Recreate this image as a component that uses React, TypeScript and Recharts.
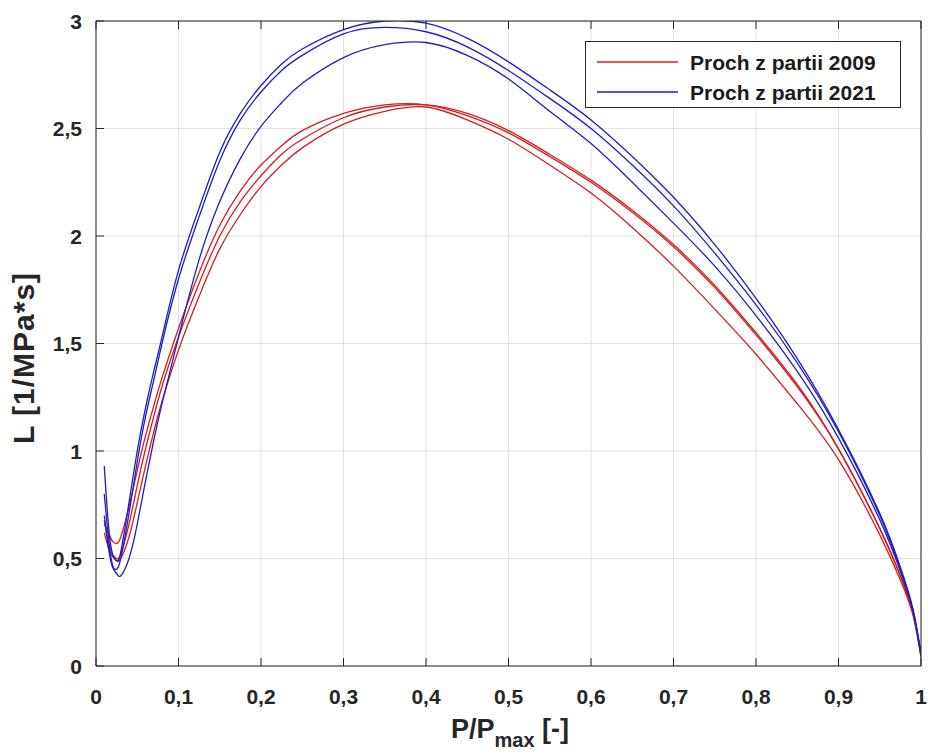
import React from 'react';
import { LineChart, Line, XAxis, YAxis, CartesianGrid, Legend } from 'recharts';

// P/Pmax sample positions
const P = [0.01, 0.015, 0.02, 0.025, 0.03, 0.04, 0.05, 0.06, 0.07, 0.08, 0.1, 0.125, 0.15, 0.175, 0.2, 0.225, 0.25, 0.3, 0.35, 0.4, 0.45, 0.5, 0.55, 0.6, 0.65, 0.7, 0.75, 0.8, 0.85, 0.9, 0.95, 0.975, 0.99, 1.0];

// Proch z partii 2009 (red)
const R1 = [0.66, 0.62, 0.58, 0.57, 0.6, 0.74, 0.91, 1.07, 1.21, 1.34, 1.57, 1.83, 2.05, 2.21, 2.33, 2.42, 2.49, 2.57, 2.61, 2.61, 2.56, 2.48, 2.37, 2.25, 2.11, 1.95, 1.76, 1.54, 1.3, 1.01, 0.64, 0.42, 0.25, 0.05];
const R2 = [0.68, 0.58, 0.52, 0.5, 0.52, 0.66, 0.84, 1.01, 1.16, 1.3, 1.53, 1.78, 2.0, 2.16, 2.28, 2.38, 2.45, 2.55, 2.6, 2.61, 2.57, 2.49, 2.38, 2.26, 2.12, 1.96, 1.77, 1.55, 1.31, 1.01, 0.64, 0.42, 0.25, 0.05];
const R3 = [0.62, 0.55, 0.51, 0.49, 0.5, 0.6, 0.76, 0.93, 1.09, 1.23, 1.47, 1.72, 1.94, 2.1, 2.23, 2.33, 2.41, 2.52, 2.58, 2.6, 2.54, 2.45, 2.33, 2.2, 2.04, 1.86, 1.66, 1.45, 1.22, 0.96, 0.61, 0.4, 0.24, 0.04];

// Proch z partii 2021 (blue)
const B1 = [0.93, 0.66, 0.52, 0.49, 0.53, 0.76, 1.0, 1.2, 1.37, 1.53, 1.84, 2.13, 2.39, 2.57, 2.7, 2.8, 2.87, 2.96, 3.0, 2.99, 2.92, 2.81, 2.68, 2.54, 2.37, 2.18, 1.96, 1.71, 1.43, 1.1, 0.71, 0.46, 0.27, 0.06];
const B2 = [0.8, 0.6, 0.47, 0.45, 0.5, 0.71, 0.95, 1.16, 1.33, 1.5, 1.8, 2.09, 2.35, 2.54, 2.67, 2.77, 2.84, 2.94, 2.97, 2.95, 2.88, 2.77, 2.64, 2.5, 2.33, 2.14, 1.92, 1.68, 1.41, 1.09, 0.7, 0.45, 0.26, 0.05];
const B3 = [0.7, 0.55, 0.46, 0.43, 0.42, 0.5, 0.66, 0.86, 1.05, 1.22, 1.53, 1.89, 2.16, 2.36, 2.51, 2.62, 2.71, 2.83, 2.89, 2.9, 2.84, 2.73, 2.58, 2.43, 2.25, 2.06, 1.86, 1.63, 1.37, 1.06, 0.68, 0.44, 0.26, 0.05];

const X_TICKS = [0, 0.1, 0.2, 0.3, 0.4, 0.5, 0.6, 0.7, 0.8, 0.9, 1];
const Y_TICKS = [0, 0.5, 1, 1.5, 2, 2.5, 3];
const SERIES_NAMES = ['Proch z partii 2009', 'Proch z partii 2021'];

const RED = '#d41e1e';
const BLUE = '#1e1ec4';
const AXIS = '#262626';

const rows = P.map((p, i) => ({ p, r1: R1[i], r2: R2[i], r3: R3[i], b1: B1[i], b2: B2[i], b3: B3[i] }));

const W = 928;
const H = 754;
const MARGIN = { top: 20, right: 6, bottom: 0, left: 36 };
const Y_AXIS_W = 60;
const X_AXIS_H = 88;
const PLOT = {
  left: MARGIN.left + Y_AXIS_W,
  right: W - MARGIN.right - 1,
  top: MARGIN.top + 1,
  bottom: H - MARGIN.bottom - X_AXIS_H,
};
const TICK_LEN = 8;

const FONT = '"Liberation Sans", Arial, Helvetica, sans-serif';
const fmt = (v: number) => String(Math.round(v * 10) / 10).replace('.', ',');
const labelStyle = { fontSize: 21, fontWeight: 700, fill: AXIS, fontFamily: FONT };

const BottomTick = (props: any) => {
  const { x, y, payload } = props;
  return (
    <g>
      <line x1={x} x2={x} y1={PLOT.bottom} y2={PLOT.bottom - TICK_LEN} stroke={AXIS} strokeWidth={1} />
      <text x={x} y={y} dy="0.71em" textAnchor="middle" {...labelStyle}>{fmt(payload.value)}</text>
    </g>
  );
};
const TopTick = (props: any) => {
  const { x } = props;
  return <line x1={x} x2={x} y1={PLOT.top} y2={PLOT.top + TICK_LEN} stroke={AXIS} strokeWidth={1} />;
};
const LeftTick = (props: any) => {
  const { x, y, payload } = props;
  return (
    <g>
      <line x1={PLOT.left} x2={PLOT.left + TICK_LEN} y1={y} y2={y} stroke={AXIS} strokeWidth={1} />
      <text x={x} y={y} dy="0.36em" textAnchor="end" {...labelStyle}>{fmt(payload.value)}</text>
    </g>
  );
};
const RightTick = (props: any) => {
  const { y } = props;
  return <line x1={PLOT.right} x2={PLOT.right - TICK_LEN} y1={y} y2={y} stroke={AXIS} strokeWidth={1} />;
};

const renderLegend = (props: any) => {
  const items = (props.payload || []).filter((e: any) => e.type !== 'none');
  return (
    <svg width={316} height={67} style={{ display: 'block' }}>
      <rect x={0.5} y={0.5} width={315} height={66} fill="#fff" stroke={AXIS} strokeWidth={1} />
      {items.map((e: any, i: number) => (
        <g key={i}>
          <line x1={12} x2={93} y1={21 + 30 * i} y2={21 + 30 * i} stroke={e.color} strokeWidth={1.3} />
          <text x={105} y={21 + 30 * i} dy="0.36em" fontSize={21} fontWeight={700} fill="#1a1a1a" fontFamily={FONT}>
            {e.value}
          </text>
        </g>
      ))}
    </svg>
  );
};

const lineProps = { type: 'natural' as const, strokeWidth: 1.3, dot: false, isAnimationActive: false };

export default function App() {
  return (
    <div style={{ position: 'absolute', left: 0, top: 0, background: '#fff' }}>
      <LineChart width={W} height={H} data={rows} margin={MARGIN}>
        <CartesianGrid stroke="#e2e2e2" strokeWidth={1} />
        <XAxis
          dataKey="p"
          type="number"
          domain={[0, 1]}
          ticks={X_TICKS}
          height={X_AXIS_H}
          tickSize={0}
          tickMargin={23}
          tickLine={false}
          stroke={AXIS}
          tick={<BottomTick />}
          interval={0}
          allowDataOverflow
        />
        <XAxis
          xAxisId="top"
          orientation="top"
          dataKey="p"
          type="number"
          domain={[0, 1]}
          ticks={X_TICKS}
          height={1}
          tickSize={0}
          tickLine={false}
          stroke={AXIS}
          tick={<TopTick />}
          interval={0}
        />
        <YAxis
          type="number"
          domain={[0, 3]}
          ticks={Y_TICKS}
          width={Y_AXIS_W}
          tickSize={0}
          tickMargin={14}
          tickLine={false}
          stroke={AXIS}
          tick={<LeftTick />}
          interval={0}
          allowDataOverflow
        />
        <YAxis
          yAxisId="right"
          orientation="right"
          type="number"
          domain={[0, 3]}
          ticks={Y_TICKS}
          width={1}
          tickSize={0}
          tickLine={false}
          stroke={AXIS}
          tick={<RightTick />}
          interval={0}
        />
        <Legend
          layout="horizontal"
          verticalAlign="middle"
          align="center"
          content={renderLegend}
          wrapperStyle={{ position: 'absolute', left: 585, top: 41, width: 316, height: 67 }}
        />
        <Line dataKey="r1" name={SERIES_NAMES[0]} stroke={RED} {...lineProps} />
        <Line dataKey="r2" name={SERIES_NAMES[0]} stroke={RED} {...lineProps} legendType="none" />
        <Line dataKey="r3" name={SERIES_NAMES[0]} stroke={RED} {...lineProps} legendType="none" />
        <Line dataKey="b1" name={SERIES_NAMES[1]} stroke={BLUE} {...lineProps} />
        <Line dataKey="b2" name={SERIES_NAMES[1]} stroke={BLUE} {...lineProps} legendType="none" />
        <Line dataKey="b3" name={SERIES_NAMES[1]} stroke={BLUE} {...lineProps} legendType="none" />
      </LineChart>
      <svg width={W} height={H} style={{ position: 'absolute', left: 0, top: 0, pointerEvents: 'none' }}>
        <text x={510} y={738} textAnchor="middle" fontSize={27} fontWeight={700} fill={AXIS} fontFamily={FONT}>
          P/P<tspan fontSize={20} dy={9}>max</tspan><tspan dy={-9}> [-]</tspan>
        </text>
        <text x={0} y={0} transform="translate(34,358) rotate(-90)" textAnchor="middle" fontSize={30} fontWeight={700} letterSpacing={1} fill={AXIS} fontFamily={FONT}>
          L [1/MPa*s]
        </text>
      </svg>
    </div>
  );
}
